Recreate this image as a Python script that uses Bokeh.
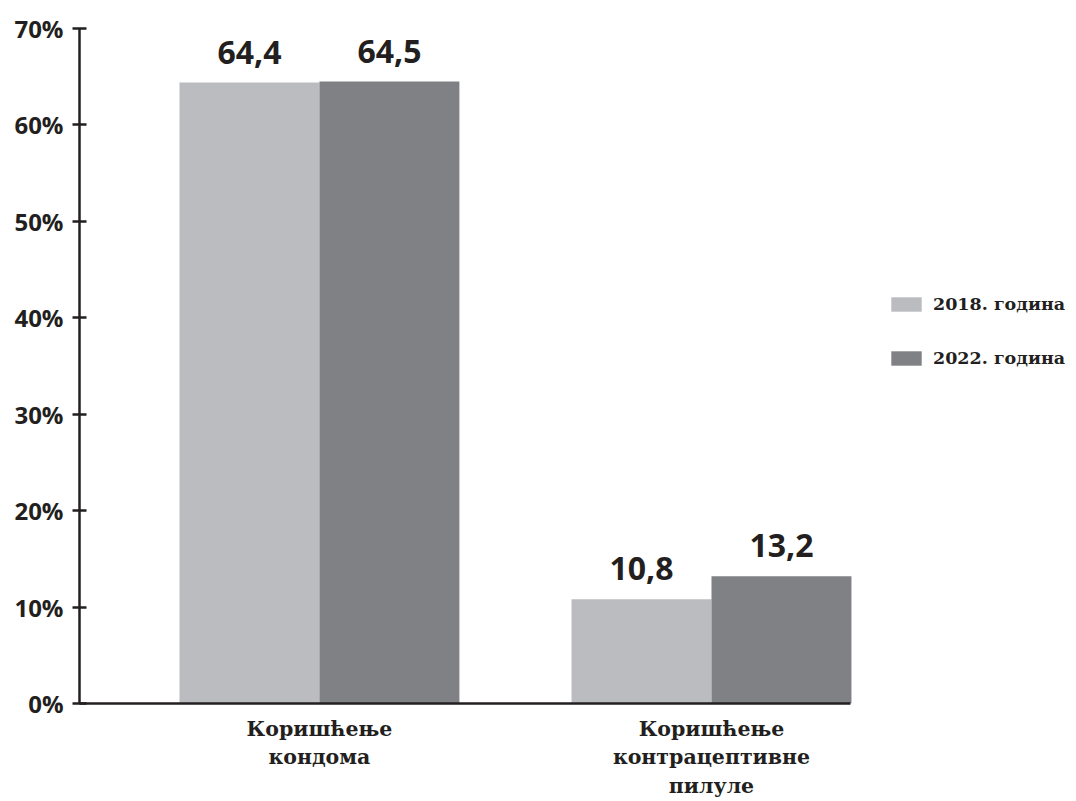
from bokeh.plotting import figure
from bokeh.models import (Range1d, FixedTicker, PrintfTickFormatter, Legend, LegendItem,
                          ColumnDataSource, LabelSet)
from bokeh.core.properties import value
from bokeh.embed import file_html
from bokeh.resources import INLINE

categories = ["Коришћење\nкондома", "Коришћење\nконтрацептивне\nпилуле"]
years = ["2018. година", "2022. година"]
values_2018 = [64.4, 10.8]
values_2022 = [64.5, 13.2]
y_ticks = [0, 10, 20, 30, 40, 50, 60, 70]

colors = ["#bbbcc0", "#808185"]
ink = "#231f20"

positions = [1, 2]
bar_w = 0.357
x_start, x_axis_end, x_end = 0.388, 2.355, 2.931

def fmt(v):
    return f"{v:.1f}".replace(".", ",")

p = figure(width=1076, height=801, output_backend="svg", toolbar_location=None,
           x_range=Range1d(x_start, x_end), y_range=Range1d(0, 70),
           min_border_left=79, min_border_top=28, min_border_right=0, min_border_bottom=95)
p.outline_line_color = None
p.xgrid.visible = False
p.ygrid.visible = False
p.background_fill_color = "white"
p.border_fill_color = "white"

renderers = []
for i, (vals, col) in enumerate(zip([values_2018, values_2022], colors)):
    offset = (i - 0.5) * bar_w
    src = ColumnDataSource(dict(x=[c + offset for c in positions], top=vals,
                                lab=[fmt(v) for v in vals]))
    r = p.vbar(x="x", top="top", width=bar_w, bottom=0, source=src,
               fill_color=col, line_color=None)
    renderers.append(r)
    p.add_layout(LabelSet(x="x", y="top", text="lab", source=src, text_align="center",
                          text_baseline="alphabetic", y_offset=19,
                          text_font=value("Open Sans"), text_font_style="bold",
                          text_font_size="32px", text_color=ink))

# axes
p.yaxis.ticker = FixedTicker(ticks=y_ticks)
p.yaxis.formatter = PrintfTickFormatter(format="%d%%")
p.yaxis.major_label_text_font = "Open Sans"
p.yaxis.major_label_text_font_style = "bold"
p.yaxis.major_label_text_font_size = "24px"
p.yaxis.major_label_text_color = ink
p.yaxis.axis_line_color = ink
p.yaxis.axis_line_width = 2.5
p.yaxis.major_tick_line_color = ink
p.yaxis.major_tick_line_width = 2.5
p.yaxis.major_tick_in = 7
p.yaxis.major_tick_out = 7
p.yaxis.minor_tick_line_color = None
p.yaxis.major_label_standoff = 9

p.xaxis.ticker = FixedTicker(ticks=positions)
p.xaxis.bounds = (x_start, x_axis_end)
p.xaxis.major_label_overrides = {pos: cat for pos, cat in zip(positions, categories)}
p.xaxis.major_label_text_font = "DejaVu Serif"
p.xaxis.major_label_text_font_style = "bold"
p.xaxis.major_label_text_font_size = "20.5px"
p.xaxis.major_label_text_color = ink
p.xaxis.axis_line_color = ink
p.xaxis.axis_line_width = 2.5
p.xaxis.major_tick_line_color = None
p.xaxis.minor_tick_line_color = None
p.xaxis.major_tick_in = 0
p.xaxis.major_tick_out = 0
p.xaxis.major_label_standoff = 13

legend = Legend(items=[LegendItem(label=y, renderers=[r]) for y, r in zip(years, renderers)],
                location=(808, 335), orientation="vertical")
legend.border_line_color = None
legend.background_fill_alpha = 0
legend.margin = 0
legend.padding = 0
legend.glyph_width = 38
legend.glyph_height = 18
legend.label_height = 18
legend.spacing = 34
legend.label_standoff = 8
legend.label_text_font = "DejaVu Serif"
legend.label_text_font_style = "bold"
legend.label_text_font_size = "17.5px"
legend.label_text_color = ink
p.add_layout(legend, "center")

open("out.html", "w").write(file_html(p, INLINE))
